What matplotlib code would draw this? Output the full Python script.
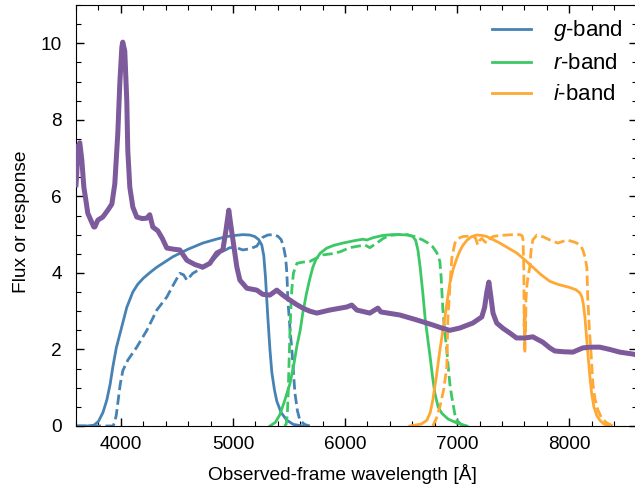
import numpy as np
import matplotlib
matplotlib.use("Agg")
import matplotlib.pyplot as plt

plt.rcParams['font.family'] = ['Liberation Sans', 'DejaVu Sans']
plt.rcParams['mathtext.fontset'] = 'custom'
plt.rcParams['mathtext.it'] = 'Liberation Sans:italic'
plt.rcParams['mathtext.rm'] = 'Liberation Sans'

# Spectrum (observed frame)
spec_wave = [3600, 3607, 3616, 3634, 3652, 3670, 3688, 3705, 3732, 3759, 3768, 3795, 3839,
             3884, 3920, 3946, 3973, 3991, 4009, 4017, 4035, 4053, 4062, 4080, 4107,
             4142, 4190, 4232, 4258, 4285, 4330, 4370, 4410, 4470, 4526, 4589, 4660,
             4731, 4794, 4856, 4910, 4937, 4963, 4981, 5000, 5035, 5062, 5124, 5213,
             5266, 5329, 5391, 5445, 5508, 5570, 5624, 5686, 5748, 5864, 6016, 6060,
             6105, 6221, 6293, 6320, 6489, 6641, 6783, 6873, 6935, 7024, 7140, 7220,
             7245, 7265, 7283, 7300, 7320, 7353, 7410, 7470, 7530, 7604, 7675, 7764,
             7827, 7871, 7950, 8032, 8121, 8184, 8273, 8362, 8451, 8567, 8600]
spec_flux = [6.3, 6.6, 7.3, 7.4, 6.95, 6.24, 5.9, 5.56, 5.38, 5.2, 5.2, 5.38, 5.46,
             5.64, 5.8, 6.32, 7.65, 8.96, 9.9, 10.03, 9.8, 8.5, 7.2, 6.24, 5.72,
             5.46, 5.42, 5.43, 5.52, 5.2, 5.1, 4.9, 4.65, 4.62, 4.6, 4.33, 4.22,
             4.15, 4.25, 4.52, 4.6, 5.1, 5.64, 5.25, 4.86, 4.15, 3.81, 3.6, 3.55,
             3.44, 3.42, 3.55, 3.42, 3.29, 3.17, 3.08, 3.0, 2.95, 3.03, 3.11, 3.16,
             3.03, 2.95, 3.08, 2.98, 2.9, 2.77, 2.64, 2.55, 2.5, 2.56, 2.69, 2.85,
             3.1, 3.5, 3.76, 3.4, 2.95, 2.69, 2.55, 2.43, 2.3, 2.3, 2.33, 2.19,
             2.04, 1.96, 1.94, 1.93, 2.04, 2.06, 2.06, 2.0, 1.93, 1.88, 1.86]

# g-band response: solid and dashed
g_wave = [3600, 3700, 3760, 3800, 3840, 3875, 3905, 3929, 3960, 4009, 4053, 4107, 4150,
          4200, 4260, 4321, 4400, 4463, 4600, 4731, 4850, 4945, 5020, 5088, 5150,
          5195, 5230, 5257, 5275, 5290, 5311, 5330, 5347, 5370, 5391, 5430, 5481,
          5540, 5623]
g_resp = [0.0, 0.0, 0.02, 0.12, 0.35, 0.68, 1.1, 1.55, 2.05, 2.6, 3.1, 3.5, 3.7,
          3.86, 4.01, 4.15, 4.3, 4.42, 4.62, 4.78, 4.88, 4.95, 4.98, 5.0, 4.99,
          4.95, 4.87, 4.73, 4.45, 3.9, 2.85, 2.0, 1.4, 0.95, 0.65, 0.35, 0.15,
          0.04, 0.0]
g2_wave = [3600, 3930, 3946, 3960, 3973, 3995, 4018, 4062, 4142, 4232, 4321, 4410, 4480,
           4526, 4560, 4589, 4642, 4720, 4794, 4883, 4972, 5030, 5088, 5150, 5213,
           5240, 5266, 5310, 5356, 5400, 5430, 5450, 5470, 5481, 5490, 5510, 5526,
           5553, 5575, 5597, 5640, 5686]
g2_resp = [0.0, 0.0, 0.1, 0.3, 0.6, 1.1, 1.45, 1.72, 2.06, 2.5, 3.03, 3.37, 3.75,
           3.99, 3.95, 3.81, 3.99, 4.12, 4.25, 4.52, 4.66, 4.66, 4.6, 4.63, 4.7,
           4.82, 4.93, 4.99, 5.0, 4.96, 4.87, 4.7, 4.4, 4.0, 3.29, 2.5, 1.98,
           0.86, 0.4, 0.15, 0.04, 0.0]

# r-band response
r_wave = [5330, 5380, 5419, 5460, 5508, 5540, 5571, 5600, 5623, 5655, 5686, 5713, 5740,
          5780, 5838, 5900, 5981, 6080, 6159, 6195, 6250, 6338, 6420, 6489, 6560,
          6605, 6630, 6650, 6670, 6694, 6715, 6739, 6757, 6780, 6801, 6830, 6864,
          6920, 6997, 7087]
r_resp = [0.0, 0.1, 0.3, 0.65, 1.1, 1.55, 2.1, 2.5, 2.95, 3.45, 3.85, 4.15, 4.35,
          4.52, 4.65, 4.72, 4.78, 4.84, 4.88, 4.86, 4.92, 4.98, 5.0, 5.0, 4.99,
          4.95, 4.85, 4.6, 4.15, 3.47, 2.8, 2.25, 1.85, 1.3, 0.86, 0.5, 0.33,
          0.18, 0.08, 0.0]
r2_wave = [5460, 5475, 5485, 5492, 5500, 5508, 5517, 5526, 5540, 5571, 5620, 5686, 5740,
           5802, 5880, 5954, 6043, 6120, 6177, 6221, 6284, 6340, 6400, 6470, 6551,
           6620, 6694, 6740, 6783, 6820, 6846, 6857, 6866, 6873, 6890, 6908, 6922,
           6935, 6950, 6962, 6980, 6997, 7051]
r2_resp = [0.0, 0.05, 0.3, 0.8, 1.6, 2.4, 3.1, 3.6, 4.0, 4.25, 4.28, 4.3, 4.38,
           4.47, 4.5, 4.55, 4.66, 4.7, 4.73, 4.66, 4.78, 4.9, 4.98, 5.0, 5.0,
           4.95, 4.86, 4.78, 4.68, 4.52, 4.3, 3.9, 3.4, 3.03, 2.45, 1.98, 1.5,
           1.1, 0.8, 0.6, 0.3, 0.15, 0.0]

# i-band response
i_wave = [6578, 6680, 6730, 6760, 6783, 6815, 6846, 6870, 6891, 6913, 6935, 6965, 6997,
          7025, 7051, 7090, 7130, 7175, 7220, 7265, 7320, 7381, 7450, 7532, 7600,
          7675, 7750, 7827, 7900, 8004, 8060, 8094, 8112, 8125, 8140, 8152, 8166,
          8184, 8200, 8220, 8245, 8273, 8310, 8362]
i_resp = [0.0, 0.05, 0.15, 0.35, 0.68, 1.3, 1.98, 2.45, 2.85, 3.3, 3.73, 4.1, 4.38,
          4.58, 4.72, 4.86, 4.95, 4.99, 4.98, 4.95, 4.87, 4.78, 4.66, 4.52, 4.35,
          4.15, 3.95, 3.78, 3.7, 3.62, 3.56, 3.48, 3.38, 3.2, 2.85, 2.4, 1.9,
          1.3, 0.85, 0.5, 0.28, 0.15, 0.05, 0.0]
i2_wave = [6783, 6815, 6846, 6880, 6908, 6917, 6935, 6953, 6980, 7010, 7051, 7140, 7165,
           7184, 7200, 7220, 7245, 7265, 7290, 7318, 7380, 7443, 7500, 7559, 7580,
           7588, 7595, 7598, 7601, 7604, 7607, 7610, 7614, 7620, 7632, 7648, 7660,
           7675, 7711, 7770, 7827, 7898, 7940, 7978, 8030, 8067, 8100, 8121, 8140,
           8157, 8166, 8180, 8193, 8211, 8230, 8255, 8290, 8336, 8389]
i2_resp = [0.0, 0.2, 0.5, 0.95, 1.55, 2.77, 3.64, 4.4, 4.78, 4.9, 4.95, 4.97, 4.9,
           4.73, 4.85, 4.9, 4.82, 4.78, 4.88, 4.95, 4.98, 4.99, 5.0, 5.0, 4.97,
           4.86, 4.07, 2.6, 3.1, 1.9, 2.9, 2.4, 3.3, 3.6, 3.9, 4.15, 4.6,
           4.86, 4.99, 4.94, 4.86, 4.78, 4.82, 4.86, 4.82, 4.78, 4.72, 4.6, 4.42,
           4.15, 3.29, 2.5, 1.98, 1.1, 0.7, 0.42, 0.2, 0.08, 0.0]

c_g = '#4682B4'
c_r = '#3CC864'
c_i = '#FFA833'
c_spec = '#7D5A9B'

fig = plt.figure(figsize=(6.35, 4.96), dpi=100)
ax = fig.add_axes([76 / 635, 70 / 496, 560.5 / 635, 421 / 496])

ax.plot(spec_wave, spec_flux, color=c_spec, lw=3.6, zorder=3, solid_joinstyle='round')
ax.plot(g_wave, g_resp, color=c_g, lw=2, label='$g$-band')
ax.plot(g2_wave, g2_resp, color=c_g, lw=2, ls='--')
ax.plot(r_wave, r_resp, color=c_r, lw=2, label='$r$-band')
ax.plot(r2_wave, r2_resp, color=c_r, lw=2, ls='--')
ax.plot(i_wave, i_resp, color=c_i, lw=2, label='$i$-band')
ax.plot(i2_wave, i2_resp, color=c_i, lw=2, ls='--')

ax.set_xlim(3600, 8600)
ax.set_ylim(0, 11)
ax.set_xticks([4000, 5000, 6000, 7000, 8000])
ax.set_yticks([0, 2, 4, 6, 8, 10])
ax.set_xticks(np.arange(3600, 8601, 200), minor=True)
ax.set_yticks(np.arange(0, 11.01, 0.5), minor=True)
ax.tick_params(which='both', direction='in', top=True, right=True, labelsize=13.7)
ax.tick_params(which='major', length=6, width=1, pad=7)
ax.tick_params(which='minor', length=3.5, width=0.8)
ax.tick_params(axis='y', pad=10)

ax.set_xlabel('Observed-frame wavelength [Å]', fontsize=13.8, labelpad=8, x=0.475)
ax.set_ylabel('Flux or response', fontsize=13.8, labelpad=8, y=0.485)
ax.legend(loc='upper right', frameon=False, fontsize=16, handlelength=1.75,
          handletextpad=1.0, labelspacing=0.45, borderaxespad=0.2)

fig.savefig('out.png', dpi=100)
